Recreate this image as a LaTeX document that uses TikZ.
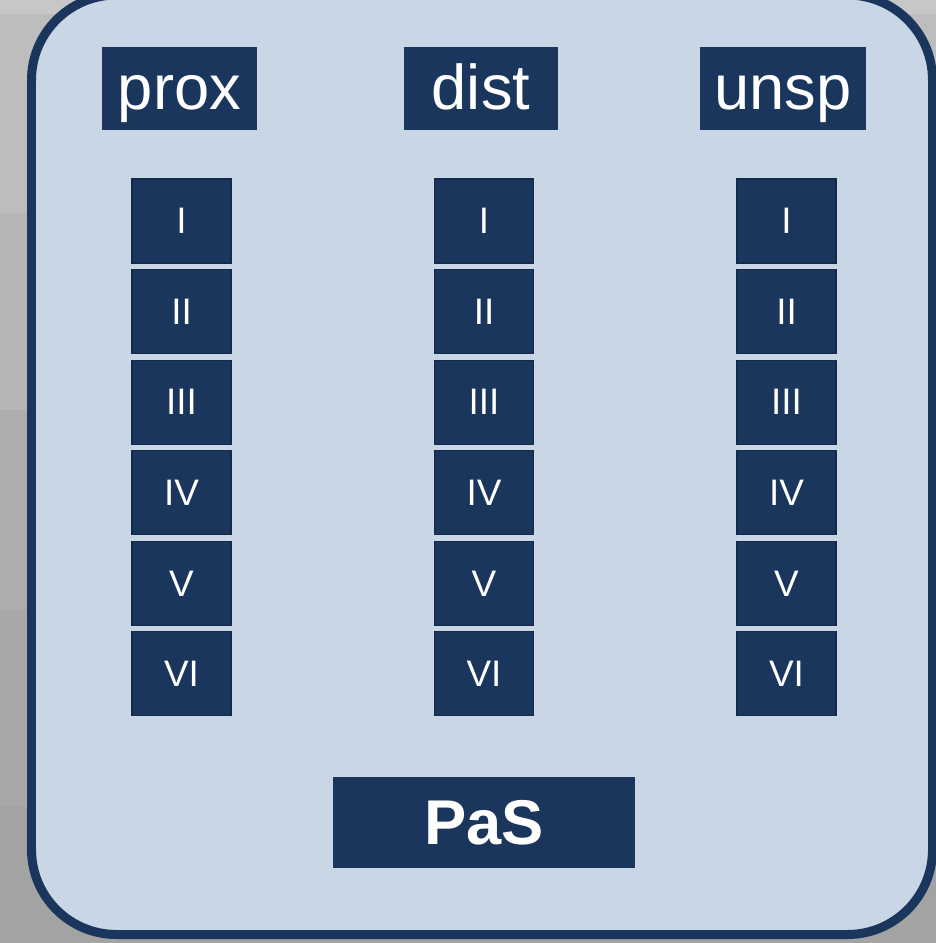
\documentclass[tikz,border=0pt]{standalone}
\usepackage{fontspec}
\setmainfont{Liberation Sans}
\usepackage{tikz}
\usetikzlibrary{positioning}

\definecolor{navy}{RGB}{27,54,93}
\definecolor{navyline}{RGB}{20,42,74}
\definecolor{panelblue}{RGB}{200,214,230}

\begin{document}
\begin{tikzpicture}[x=0.02cm,y=-0.02cm,node distance=1.812cm,
  every node/.style={fill=navy,text=white,inner sep=0pt},
  head/.style={minimum height=1.66cm,text height=1.1cm,text depth=0.24cm,font=\fontsize{36}{40}\selectfont},
  layer/.style={draw=navyline,line width=0.6pt,minimum width=1.98cm,minimum height=1.68cm,font=\fontsize{21}{24}\selectfont}]
  \useasboundingbox (0,0) rectangle (936,943);

  % grey backdrop
  \fill[black!22](0,0) rectangle (936,14);
  \fill[black!26](0,14) rectangle (936,213);
  \fill[black!29](0,213) rectangle (936,410);
  \fill[black!32](0,410) rectangle (936,610);
  \fill[black!34](0,610) rectangle (936,806);
  \fill[black!36](0,806) rectangle (936,943);

  \draw[navy,fill=panelblue,line width=0.18cm,rounded corners=1.7cm](31.5,-5) rectangle (932.5,934.5);

  \node[head,minimum width=3.1cm] (prox) at (179.5,88.5) {prox};
  \node[head,minimum width=3.08cm] (dist) at (481,88.5) {dist};
  \node[head,minimum width=3.32cm] (unsp) at (783,88.5) {unsp};

  \node[layer] (p1) at (181.5,221) {I};
  \node[layer,below of =p1](p2){II};
  \node[layer,below of =p2](p3){III};
  \node[layer,below of =p3](p4){IV};
  \node[layer,below of =p4](p5){V};
  \node[layer,below of =p5](p6){VI};

  \node[layer] (d1) at (484,221) {I};
  \node[layer,below of =d1](d2){II};
  \node[layer,below of =d2](d3){III};
  \node[layer,below of =d3](d4){IV};
  \node[layer,below of =d4](d5){V};
  \node[layer,below of =d5](d6){VI};

  \node[layer] (u1) at (786.5,221) {I};
  \node[layer,below of =u1](u2){II};
  \node[layer,below of =u2](u3){III};
  \node[layer,below of =u3](u4){IV};
  \node[layer,below of =u4](u5){V};
  \node[layer,below of =u5](u6){VI};

  \node[minimum width=6.04cm,minimum height=1.82cm,font=\fontsize{36}{40}\selectfont\bfseries] (pas) at (484,822.5) {PaS};
\end{tikzpicture}
\end{document}
